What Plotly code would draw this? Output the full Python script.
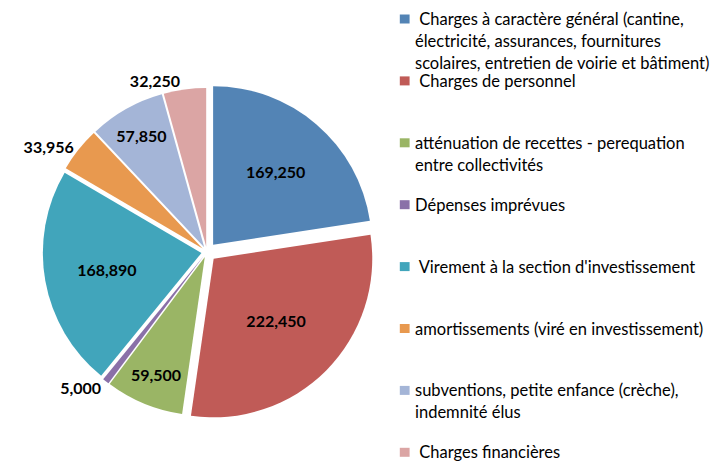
import plotly.graph_objects as go

# ---- data ----
categories = [
    "\u00a0Charges à caractère général (cantine,<br>électricité, assurances, fournitures<br>scolaires, entretien de voirie et bâtiment)",
    "\u00a0Charges de personnel",
    "atténuation de recettes - perequation<br>entre collectivités",
    "Dépenses imprévues",
    "\u00a0Virement à la section d'investissement",
    "amortissements (viré en investissement)",
    "subventions, petite enfance (crèche),<br>indemnité élus",
    "\u00a0Charges financières",
]
values = [169250, 222450, 59500, 5000, 168890, 33956, 57850, 32250]
colors = ["#5384B5", "#C05B57", "#9AB565", "#8A70A8",
          "#41A5BB", "#E8994F", "#A4B5D7", "#DBA5A4"]
text_positions = ["inside", "inside", "inside", "outside",
                  "inside", "outside", "inside", "outside"]
pulls = [0.06, 0.06, 0.035, 0.035, 0.035, 0.035, 0.035, 0.035]

W, H = 719, 461
FONT = "Lato"

fig = go.Figure()
fig.add_trace(go.Pie(
    labels=categories,
    values=values,
    sort=False,
    direction="clockwise",
    rotation=0,
    pull=pulls,
    marker=dict(colors=colors, line=dict(width=0)),
    texttemplate="%{value:,}",
    textinfo="value",
    textposition=text_positions,
    insidetextorientation="horizontal",
    textfont=dict(family=FONT, size=16, color="black", weight="bold"),
    outsidetextfont=dict(family=FONT, size=16, color="black", weight="bold"),
    insidetextfont=dict(family=FONT, size=16, color="black", weight="bold"),
    showlegend=False,
    domain=dict(x=[0.0338, 0.5114], y=[0.0809, 0.8259]),
))

# ---- custom legend (layout decoration) ----
leg_sq_x = 393
leg_text_x = 408
leg_top = 19
leg_step = 61.9
line_h = 22
shapes = []
annotations = []
for i, (lab, col) in enumerate(zip(categories, colors)):
    cy = leg_top + i * leg_step
    shapes.append(dict(
        type="rect", xref="paper", yref="paper",
        x0=leg_sq_x / W, x1=(leg_sq_x + 10) / W,
        y0=1 - (cy - 4.5) / H, y1=1 - (cy + 4.5) / H,
        fillcolor=col, line=dict(width=0),
    ))
    for j, line in enumerate(lab.split("<br>")):
        annotations.append(dict(
            xref="paper", yref="paper",
            x=leg_text_x / W, y=1 - (cy + j * line_h) / H,
            xanchor="left", yanchor="middle",
            text=line, showarrow=False, borderpad=0,
            font=dict(family=FONT, size=16.5, color="black"),
        ))

fig.update_layout(
    width=W, height=H,
    margin=dict(l=0, r=0, t=0, b=0),
    paper_bgcolor="white",
    plot_bgcolor="white",
    shapes=shapes,
    annotations=annotations,
    uniformtext=dict(minsize=16, mode="show"),
)

fig.write_html("out.html", config={"displayModeBar": False})

# remove the browser's default page margin so the figure sits at (0, 0)
with open("out.html", encoding="utf-8") as f:
    html = f.read()
html = html.replace("<head>", "<head><style>html,body{margin:0;padding:0;overflow:hidden;}</style>", 1)
with open("out.html", "w", encoding="utf-8") as f:
    f.write(html)
